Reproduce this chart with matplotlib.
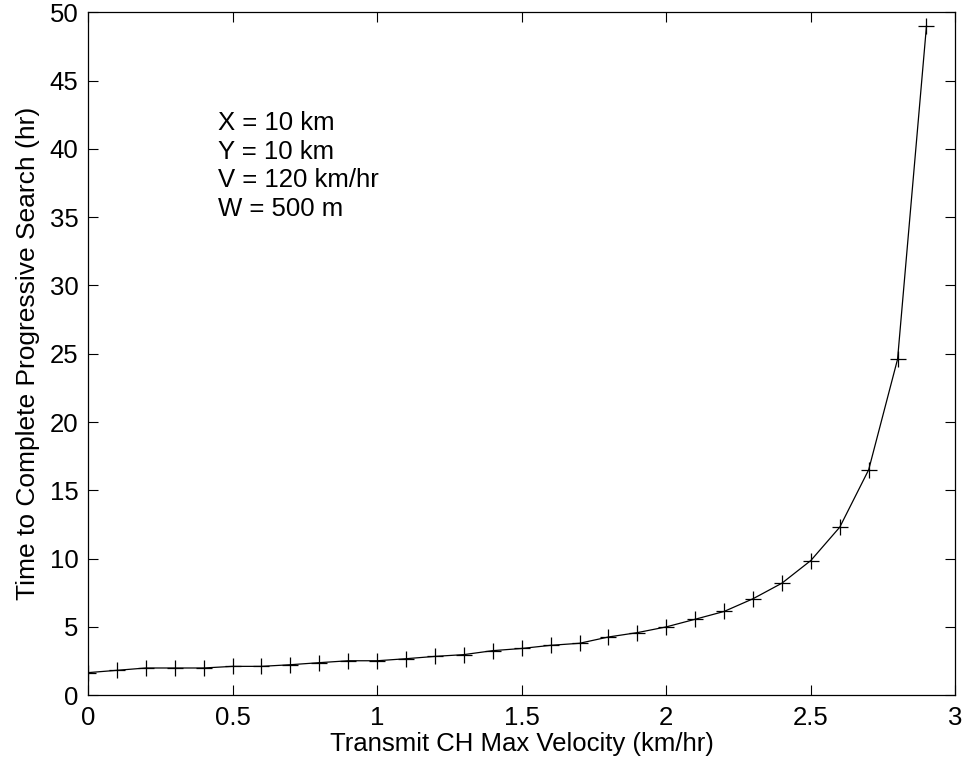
import matplotlib
matplotlib.use("Agg")
import matplotlib.pyplot as plt

# -----------------------
# DATA
# -----------------------
velocity = [0.0, 0.1, 0.2, 0.3, 0.4, 0.5, 0.6, 0.7, 0.8, 0.9, 1.0,
            1.1, 1.2, 1.3, 1.4, 1.5, 1.6, 1.7, 1.8, 1.9, 2.0,
            2.1, 2.2, 2.3, 2.4, 2.5, 2.6, 2.7, 2.8, 2.9]
search_time = [1.65, 1.82, 1.99, 1.99, 1.99, 2.11, 2.11, 2.23, 2.38, 2.52, 2.52,
               2.67, 2.84, 2.97, 3.26, 3.42, 3.65, 3.80, 4.26, 4.58, 5.00,
               5.56, 6.13, 7.06, 8.20, 9.86, 12.3, 16.5, 24.6, 49.0]
params = ["X = 10 km", "Y = 10 km", "V = 120 km/hr", "W = 500 m"]
xticks = [0, 0.5, 1, 1.5, 2, 2.5, 3]
yticks = list(range(0, 51, 5))

# -----------------------
# PLOT
# -----------------------
plt.rcParams['font.family'] = ['Liberation Sans', 'DejaVu Sans']
fig = plt.figure(figsize=(9.67, 7.69), dpi=100)
ax = fig.add_axes([0.091, 0.096, 0.897, 0.888])

ax.plot(velocity, search_time, color='black', linewidth=0.9,
        marker='+', markersize=12, markeredgewidth=0.9)

ax.set_xlim(0, 3)
ax.set_ylim(0, 50)
ax.set_xticks(xticks)
ax.set_xticklabels(["0", "0.5", "1", "1.5", "2", "2.5", "3"])
ax.set_yticks(yticks)
ax.tick_params(direction='in', top=True, right=True, length=7, width=0.8,
               labelsize=18.5)
ax.tick_params(axis='x', pad=8)
ax.tick_params(axis='y', pad=7)
for s in ax.spines.values():
    s.set_linewidth(0.9)

ax.set_xlabel("Transmit CH Max Velocity (km/hr)", fontsize=18.5, labelpad=1)
ax.set_ylabel("Time to Complete Progressive Search (hr)", fontsize=19, labelpad=7)

for i, t in enumerate(params):
    ax.text(0.45, 41.9 - i * 2.1, t, fontsize=18.5, va='center', ha='left')

plt.savefig("out.png", dpi=100)
plt.close()
